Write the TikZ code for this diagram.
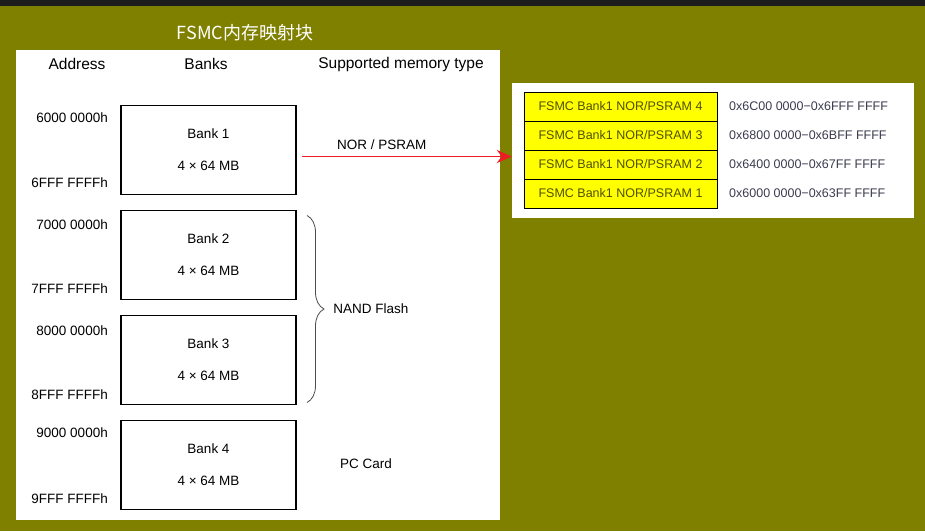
\documentclass[tikz,border=0pt]{standalone}
\usepackage{fontspec}
\setmainfont{Liberation Sans}
\newfontfamily\cjk{Noto Sans CJK SC}
\usepackage{tikz}
\usetikzlibrary{positioning, arrows.meta, decorations.pathreplacing, calc}
\definecolor{fsmc-olive}{RGB}{128,128,0}
\definecolor{fsmc-bar}{RGB}{28,28,28}
\definecolor{fsmc-red}{RGB}{237,28,36}
\definecolor{fsmc-yellow}{RGB}{255,255,0}
\definecolor{fsmc-text}{RGB}{80,80,0}
\definecolor{fsmc-addr}{RGB}{60,60,80}

\begin{document}
\begin{tikzpicture}[
    x=1pt, y=-1pt,
    node distance=16pt,
    bank/.style={rectangle, draw=black, line width=1.8pt, outer sep=0pt, minimum width=175pt, minimum height=89pt, align=center, inner sep=0pt, font=\fontsize{13.5}{16}\selectfont},
    header/.style={inner sep=0pt, font=\fontsize{15.5}{18}\selectfont},
    addr/.style={anchor=east, inner sep=0pt, font=\fontsize{13.5}{16}\selectfont},
    memtype/.style={anchor=west, inner sep=0pt, font=\fontsize{13.5}{16}\selectfont},
    region/.style={rectangle, draw=black, fill=fsmc-yellow, outer sep=0pt, minimum width=193pt, minimum height=29pt, inner sep=0pt, text=fsmc-text, font=\fontsize{12.5}{15}\selectfont},
    addrrange/.style={anchor=west, inner sep=0pt, text=fsmc-addr, font=\fontsize{12.5}{15}\selectfont},
    arrow/.style={-{Stealth[length=15pt, width=13pt]}, line width=1.8pt, color=fsmc-red},
    brace/.style={decorate, decoration={brace, amplitude=17pt, aspect=0.5}, draw=black!70, line width=0.8pt}
]
    % Fondo
    \useasboundingbox (0,0) rectangle (925,531);
    \fill[fsmc-olive] (0,0) rectangle (925,531);
    \fill[fsmc-bar] (0,0) rectangle (925,5.5);
    \node[text=white, font=\cjk\fontsize{18}{20}\selectfont] (title) at (245,33) {FSMC内存映射块};
    \node[fill=white, minimum width=484pt, minimum height=470pt, inner sep=0pt] (lpanel) at (258,285) {};
    \node[fill=white, minimum width=402pt, minimum height=135pt, inner sep=0pt] (rpanel) at (713,150.5) {};

    % Cabeceras
    \node[header] (haddr) at (77,64) {Address};
    \node[header] (hbank) at (206,64) {Banks};
    \node[header] (htype) at (401,64) {Supported memory type};

    % Bancos
    \node[bank] (b1) at (208.5,150) {Bank 1\\[16pt]4 × 64 MB};
    \node[bank, below=of b1] (b2) {Bank 2\\[16pt]4 × 64 MB};
    \node[bank, below=of b2] (b3) {Bank 3\\[16pt]4 × 64 MB};
    \node[bank, below=of b3] (b4) {Bank 4\\[16pt]4 × 64 MB};

    % Direcciones
    \node[addr, left=13pt of b1.north west, yshift=-12pt] (a1lo) {6000 0000h};
    \node[addr, left=13pt of b1.south west, yshift=12pt] (a1hi) {6FFF FFFFh};
    \node[addr, left=13pt of b2.north west, yshift=-14pt] (a2lo) {7000 0000h};
    \node[addr, left=13pt of b2.south west, yshift=11pt] (a2hi) {7FFF FFFFh};
    \node[addr, left=13pt of b3.north west, yshift=-15pt] (a3lo) {8000 0000h};
    \node[addr, left=13pt of b3.south west, yshift=10pt] (a3hi) {8FFF FFFFh};
    \node[addr, left=13pt of b4.north west, yshift=-12pt] (a4lo) {9000 0000h};
    \node[addr, left=13pt of b4.south west, yshift=11pt] (a4hi) {9FFF FFFFh};

    % Tipos de memoria
    \coordinate (a0) at ([xshift=6pt, yshift=-6.5pt]b1.east);
    \draw[arrow] (a0) -- (a0 -| rpanel.west);
    \node[memtype] (nor) at (337,145) {NOR / PSRAM};
    \draw[brace] ([xshift=11pt, yshift=-5pt]b2.north east) -- ([xshift=11pt, yshift=2pt]b3.south east)
        node[memtype, midway, right=26pt] (nand) {NAND Flash};
    \node[memtype] (pc) at (340,464) {PC Card};

    % Bank1 NOR/PSRAM
    \node[region] (r4) at (620.5,106.5) {FSMC Bank1 NOR/PSRAM 4};
    \node[region, below=0pt of r4] (r3) {FSMC Bank1 NOR/PSRAM 3};
    \node[region, below=0pt of r3] (r2) {FSMC Bank1 NOR/PSRAM 2};
    \node[region, below=0pt of r2] (r1) {FSMC Bank1 NOR/PSRAM 1};
    \node[addrrange, right=12pt of r4] (g4) {0x6C00 0000−0x6FFF FFFF};
    \node[addrrange, right=12pt of r3] (g3) {0x6800 0000−0x6BFF FFFF};
    \node[addrrange, right=12pt of r2] (g2) {0x6400 0000−0x67FF FFFF};
    \node[addrrange, right=12pt of r1] (g1) {0x6000 0000−0x63FF FFFF};
\end{tikzpicture}
\end{document}
